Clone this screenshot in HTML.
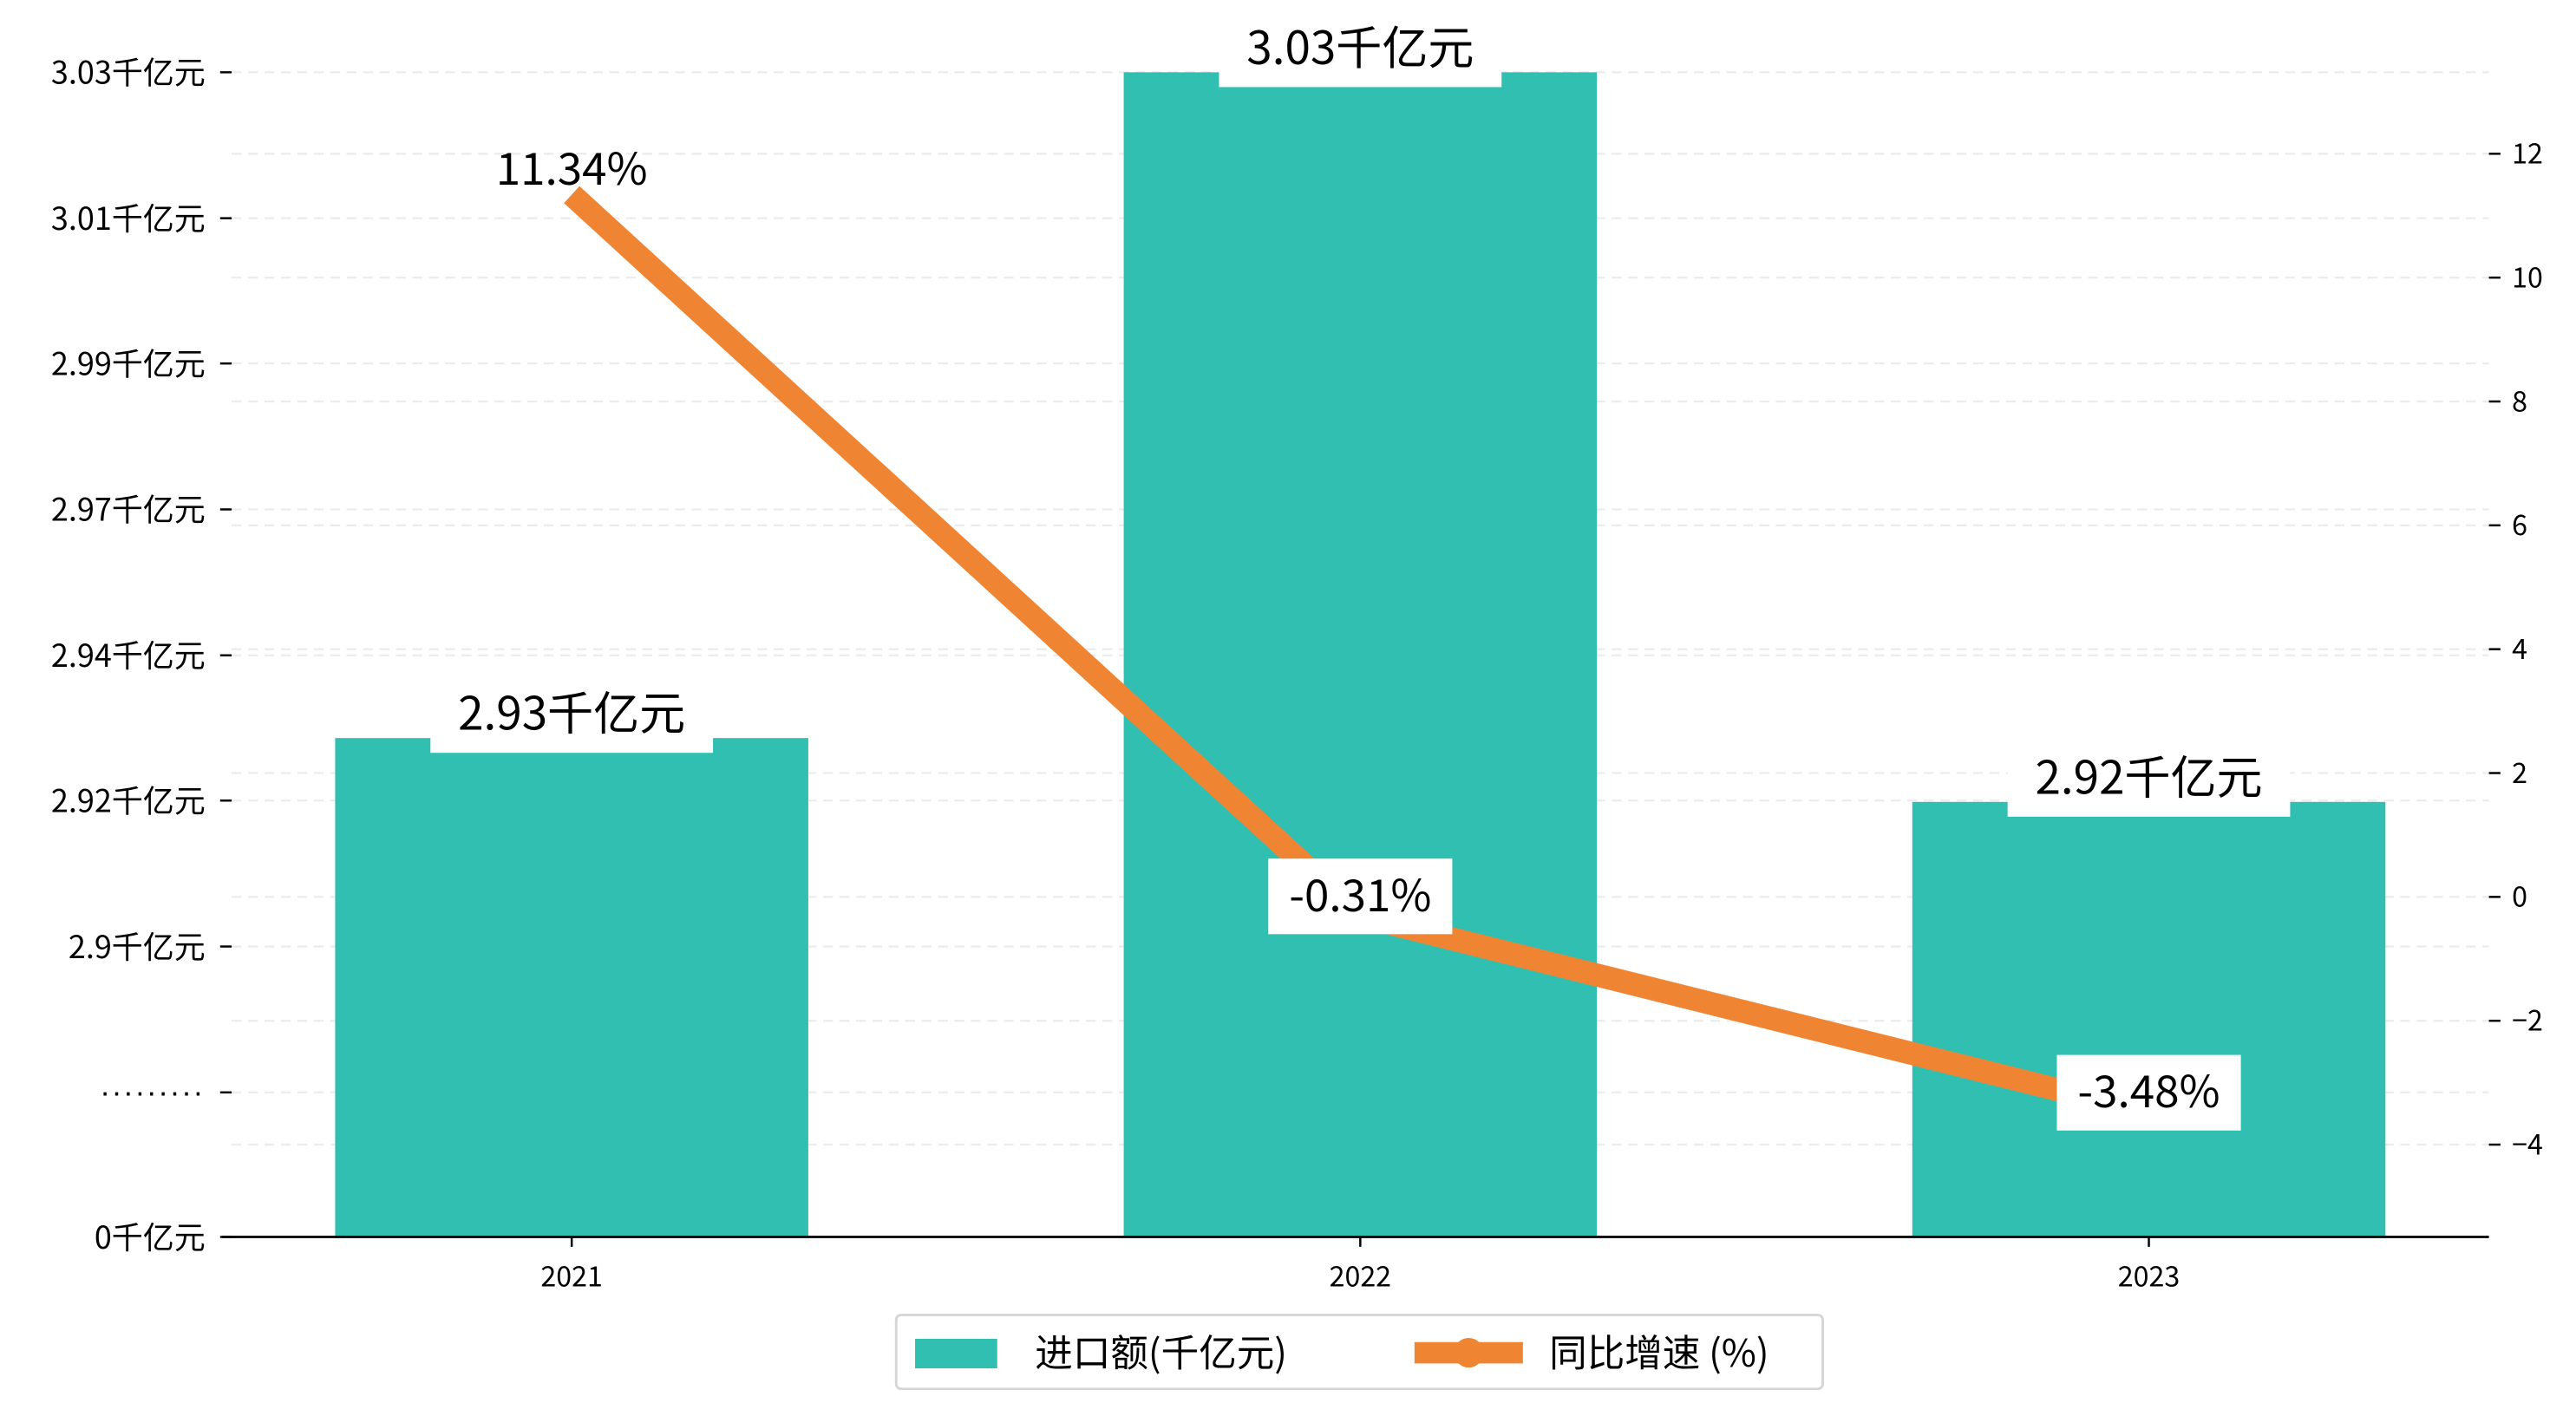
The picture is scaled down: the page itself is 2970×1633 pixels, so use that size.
<!DOCTYPE html>
<html><head><meta charset="utf-8"><style>
html,body{margin:0;padding:0;background:#fff;}
svg{display:block;font-family:"WenQuanYi Zen Hei","Noto Sans CJK SC",sans-serif;}
</style></head><body>
<svg id="chart" width="2970" height="1633" viewBox="0 0 1568 862" preserveAspectRatio="none" xmlns="http://www.w3.org/2000/svg">
<g id="grid"></g><g id="bars"></g><g id="line"></g><g id="axes"></g><g id="labels"></g>
<g>
<rect x="545.5" y="800.5" width="564" height="45" rx="3" fill="#fff" stroke="#d5d5d5" stroke-width="1.5"/>
<rect x="557" y="815" width="50" height="18" fill="#31bfb2"/>
<text x="630" y="832" font-size="23">进口额(千亿元)</text>
<rect x="861" y="817" width="66" height="13" fill="#ef8533"/>
<circle cx="894" cy="823.5" r="9" fill="#ef8533"/>
<text x="943" y="832" font-size="23">同比增速 (%)</text>
</g>
</svg>
<script>
const categories = ["2021","2022","2023"];
const importValues = [2.931, 3.03, 2.9215];
const importLabels = ["2.93千亿元","3.03千亿元","2.92千亿元"];
const growthValues = [11.34, -0.31, -3.48];
const growthLabels = ["11.34%","-0.31%","-3.48%"];
const leftTickValues = [3.03, 3.0083, 2.9867, 2.965, 2.9433, 2.9217, 2.9];
const leftTickLabels = ["3.03千亿元","3.01千亿元","2.99千亿元","2.97千亿元","2.94千亿元","2.92千亿元","2.9千亿元"];
const rightTicks = [12,10,8,6,4,2,0,-2,-4];

const NS="http://www.w3.org/2000/svg";
function mk(tag, attrs, parent, text){const e=document.createElementNS(NS,tag);for(const k in attrs)e.setAttribute(k,attrs[k]);if(text!==undefined)e.textContent=text;parent.appendChild(e);return e;}
const X0=135,X1=1515,BASE=753;
function xPos(i){return 348+i*480;}
function yL(v){return v<=0?BASE:44+(3.03-v)/0.021667*88.7;}
function yR(v){return 546-v*37.7;}
const grid=document.getElementById('grid'),bars=document.getElementById('bars'),line=document.getElementById('line'),axes=document.getElementById('axes'),labels=document.getElementById('labels');

leftTickValues.forEach(v=>{const g=mk('line',{x1:X0+6,x2:X1,y1:yL(v),y2:yL(v),stroke:'#ececec','stroke-width':1.2,'stroke-dasharray':'6,4'},grid);

});
mk('line',{x1:X0+6,x2:X1,y1:665,y2:665,stroke:'#ececec','stroke-width':1.2,'stroke-dasharray':'6,4'},grid);
rightTicks.forEach(v=>{const g=mk('line',{x1:X0+6,x2:X1,y1:yR(v),y2:yR(v),stroke:'#ececec','stroke-width':1.2,'stroke-dasharray':'6,4'},grid);

});

importValues.forEach((v,i)=>{const y=yL(v);const b=mk('rect',{x:xPos(i)-144,y:y,width:288,height:BASE-y,fill:'#31bfb2'},bars);

});

const pts=growthValues.map((v,i)=>xPos(i)+','+yR(v)).join(' ');
const pl=mk('polyline',{points:pts,fill:'none',stroke:'#ef8533','stroke-width':14,'stroke-linejoin':'round'},line);



mk('line',{x1:X0,x2:X1,y1:BASE,y2:BASE,stroke:'#000','stroke-width':1.5},axes);
leftTickValues.forEach((v,i)=>{const y=yL(v);mk('line',{x1:134,x2:141,y1:y,y2:y,stroke:'#000','stroke-width':1.3},axes);
const t=mk('text',{x:125,y:y+7,'text-anchor':'end','font-size':19},axes,leftTickLabels[i]);

});
mk('line',{x1:134,x2:141,y1:665,y2:665,stroke:'#000','stroke-width':1.3},axes);
const dots=mk('text',{x:125,y:667,'text-anchor':'end','font-size':19,'letter-spacing':'1.8','font-family':'Liberation Sans, sans-serif'},axes,'.........');


mk('line',{x1:134,x2:141,y1:BASE,y2:BASE,stroke:'#000','stroke-width':1.3},axes);
const z=mk('text',{x:125,y:BASE+7,'text-anchor':'end','font-size':19},axes,'0千亿元');


rightTicks.forEach(v=>{const y=yR(v);mk('line',{x1:X1,x2:X1+7,y1:y,y2:y,stroke:'#000','stroke-width':1.3},axes);
const t=mk('text',{x:X1+14,y:y+6,'font-size':17},axes,v<0?'−'+(-v):String(v));

});
categories.forEach((c,i)=>{mk('line',{x1:xPos(i),x2:xPos(i),y1:BASE,y2:BASE+6,stroke:'#000','stroke-width':1.3},axes);
const t=mk('text',{x:xPos(i),y:BASE+30,'text-anchor':'middle','font-size':17},axes,c);

});

importLabels.forEach((s,i)=>{const y=yL(importValues[i]);
mk('rect',{x:xPos(i)-86,y:y-33,width:172,height:42,fill:'#fff'},labels);
const t=mk('text',{x:xPos(i),y:y-5,'text-anchor':'middle','font-size':28},labels,s);

});
growthLabels.forEach((s,i)=>{const y=yR(growthValues[i]);
if(i>0) mk('rect',{x:xPos(i)-56,y:y-35,width:112,height:46,fill:'#fff'},labels);
const ty=i===0?y-6:y-3;
const t=mk('text',{x:xPos(i),y:ty,'text-anchor':'middle','font-size':27},labels,s);

});
</script>
</body></html>
